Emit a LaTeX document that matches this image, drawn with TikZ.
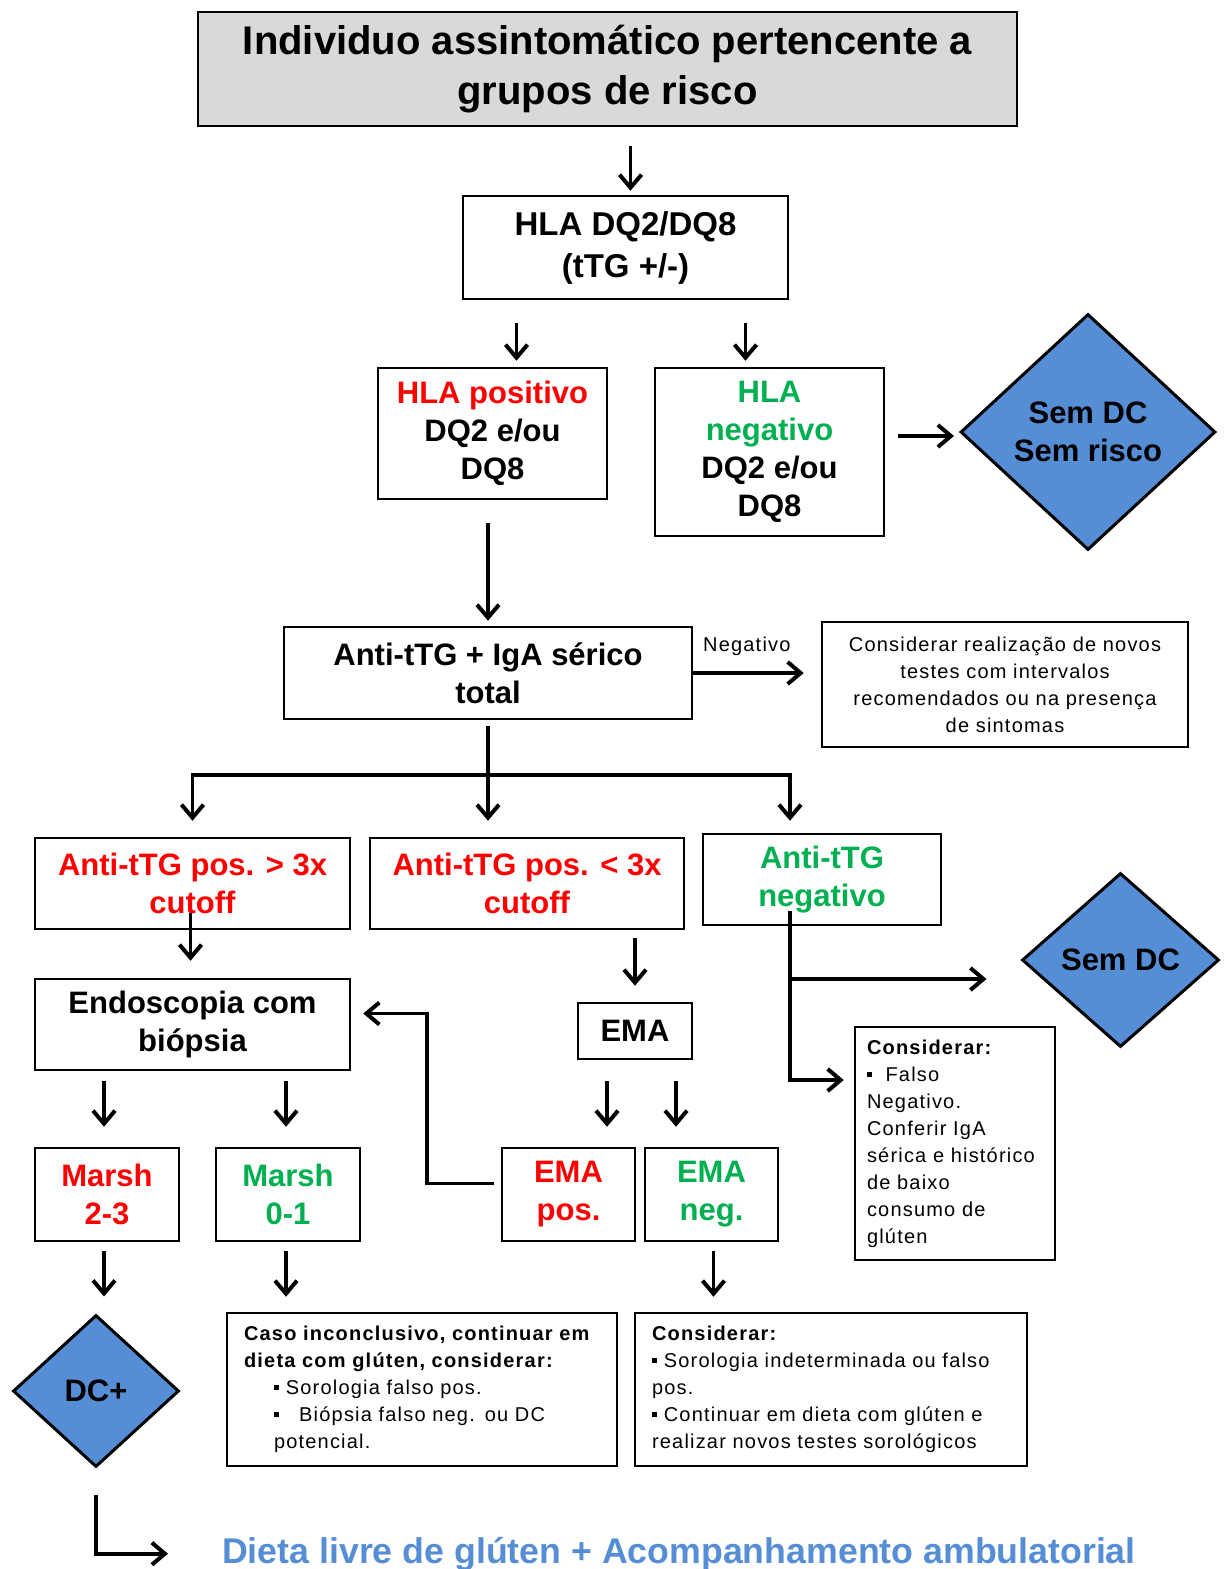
\documentclass[tikz,border=0pt]{standalone}
\usepackage{fontspec}
\setmainfont{Liberation Sans}
\newfontfamily\notefont[LetterSpace=6]{Liberation Sans}
\usetikzlibrary{shapes.geometric,arrows.meta,calc}
\definecolor{hlared}{HTML}{FF0000}
\definecolor{hlagreen}{HTML}{00B050}
\definecolor{dcblue}{HTML}{558ED5}
\definecolor{topgray}{HTML}{D9D9D9}
\newcommand\sqb{\raisebox{0.22em}{\rule{0.26em}{0.26em}}}

\begin{document}
\begin{tikzpicture}
  [x=1pt, y=-1pt,
   box/.style={draw, line width=2.5pt, align=center, inner sep=0pt,
     font=\bfseries\fontsize{31}{38}\selectfont},
   note/.style={draw, line width=2.5pt, inner xsep=17pt, inner ysep=0pt,
     align=left, font=\notefont\fontsize{20}{27}\selectfont},
   decision/.style={diamond, draw, fill=dcblue, line width=3pt,
     inner sep=0pt, align=center, font=\bfseries\fontsize{31}{38}\selectfont},
   wire/.style={line width=3.6pt, line cap=rect},
   arr/.style={line width=3.6pt,
     -{Straight Barb[length=13pt,width=22pt,line width=4pt]}}]
  \useasboundingbox (0,0) rectangle (1224,1569);

  % top of the chart
  \node[box, fill=topgray, minimum width=819pt, minimum height=114pt,
    font=\bfseries\fontsize{40}{50}\selectfont] (top) at (607.5,69)
    {Individuo assintomático pertencente a\\grupos de risco};
  \node[box, minimum width=325pt, minimum height=103pt,
    font=\bfseries\fontsize{33}{42}\selectfont] (hla) at (625.5,247.5)
    {HLA DQ2/DQ8\\(tTG +/-)};
  \node[box, minimum width=229pt, minimum height=131pt] (pos) at (492.5,433.5)
    {\textcolor{hlared}{HLA positivo}\\DQ2 e/ou\\DQ8};
  \node[box, minimum width=229pt, minimum height=168pt] (neg) at (769.5,452)
    {\textcolor{hlagreen}{HLA}\\\textcolor{hlagreen}{negativo}\\DQ2 e/ou\\DQ8};
  \node[decision, minimum width=255pt, minimum height=236pt] (semrisco) at (1088,432)
    {Sem DC\\Sem risco};

  % serology
  \node[box, minimum width=408pt, minimum height=92pt] (iga) at (488,673)
    {Anti-tTG + IgA sérico\\total};
  \node[note, align=center, text width=332pt, minimum height=125pt] (cons1) at (1005,684.5)
    {Considerar realização de novos\\testes com intervalos\\recomendados ou na presença\\de sintomas};
  \node[box, minimum width=315pt, minimum height=91pt, text=hlared] (ttg3a) at (192.5,883.5)
    {Anti-tTG pos. > 3x\\cutoff};
  \node[box, minimum width=314pt, minimum height=91pt, text=hlared] (ttg3b) at (527,883.5)
    {Anti-tTG pos. < 3x\\cutoff};
  \node[box, minimum width=238pt, minimum height=91pt, text=hlagreen] (ttgneg) at (822,879.5)
    {Anti-tTG\\negativo};
  \node[decision, minimum width=197pt, minimum height=174pt] (semdc) at (1120.5,960)
    {Sem DC};

  % biopsy and EMA
  \node[box, minimum width=315pt, minimum height=91pt] (endo) at (192.5,1024.5)
    {Endoscopia com\\biópsia};
  \node[box, minimum width=114pt, minimum height=56pt] (ema) at (635,1031) {EMA};
  \node[note, inner xsep=12pt, text width=176pt, minimum height=233pt] (cons2) at (955,1143.5)
    {\textbf{Considerar:}\\\sqb\ \ Falso\\Negativo.\\Conferir IgA\\sérica e histórico\\de baixo\\consumo de\\glúten};
  \node[box, minimum width=144pt, minimum height=93pt, text=hlared] (m23) at (107,1194.5)
    {Marsh\\2-3};
  \node[box, minimum width=144pt, minimum height=93pt, text=hlagreen] (m01) at (288,1194.5)
    {Marsh\\0-1};
  \node[box, minimum width=133pt, minimum height=93pt, text=hlared] (emapos) at (568.5,1194.5)
    {EMA\\pos.};
  \node[box, minimum width=133pt, minimum height=93pt, text=hlagreen] (emaneg) at (711.5,1194.5)
    {EMA\\neg.};

  % outcomes
  \node[decision, minimum width=166pt, minimum height=152pt] (dcplus) at (96,1391) {DC+};
  \node[note, text width=356pt, minimum height=153pt] (caso) at (422,1389.5)
    {\textbf{Caso inconclusivo, continuar em}\\\textbf{dieta com glúten, considerar:}\\
     \hspace*{30pt}\sqb\ Sorologia falso pos.\\
     \hspace*{30pt}\sqb\quad Biópsia falso neg. ou DC\\
     \hspace*{30pt}potencial.};
  \node[note, text width=358pt, minimum height=153pt] (cons3) at (831,1389.5)
    {\textbf{Considerar:}\\\sqb\ Sorologia indeterminada ou falso\\pos.\\
     \sqb\ Continuar em dieta com glúten e\\realizar novos testes sorológicos};
  \node[anchor=base west, inner sep=0pt, text=dcblue,
    font=\bfseries\fontsize{35.7}{42}\selectfont] (dieta) at (222,1563)
    {Dieta livre de glúten + Acompanhamento ambulatorial};

  % arrows
  \draw[arr, shorten <=19pt, shorten >=4pt] ([xshift=5pt]hla.north |- top.south) -- ([xshift=5pt]hla.north);
  \draw[arr, shorten <=23pt, shorten >=6pt] ([xshift=24pt]pos.north |- hla.south) -- ([xshift=24pt]pos.north);
  \draw[arr, shorten <=23pt, shorten >=6pt] ([xshift=-24pt]neg.north |- hla.south) -- ([xshift=-24pt]neg.north);
  \draw[arr, shorten <=13pt, shorten >=5pt] ([yshift=16pt]neg.east) -- ([yshift=16pt]neg.east -| semrisco.west);
  \draw[arr, shorten <=23pt, shorten >=5pt] (iga.north |- pos.south) -- (iga.north);
  \draw[arr, shorten >=17pt] (iga.east) -- (iga.east -| cons1.west)
    node[pos=0.42, above=16pt, inner sep=0pt, font=\notefont\fontsize{20}{24}\selectfont] (neglbl) {Negativo};

  \coordinate (bus) at (iga.south |- 0,775);
  \coordinate (busL) at (ttg3a.north |- bus);
  \coordinate (busR) at ([xshift=-32pt]ttgneg.north |- bus);
  \draw[wire, shorten <=8pt] (iga.south) -- (bus);
  \draw[wire] (busL) -- (busR);
  \draw[arr, shorten >=16pt] (busL) -- (ttg3a.north);
  \draw[arr, shorten >=16pt] (bus) -- (bus |- ttg3b.north);
  \draw[arr, shorten >=12pt] (busR) -- ([xshift=-32pt]ttgneg.north);

  \draw[arr, shorten <=-17pt, shorten >=17pt] ([xshift=-2pt]ttg3a.south) -- ([xshift=-2pt]ttg3a.south |- endo.north);
  \draw[arr, shorten <=8pt, shorten >=16pt] (ttg3b.south -| ema.north) -- (ema.north);

  \coordinate (negtop) at ([xshift=-32pt]ttgneg.south);
  \coordinate (negfork) at (negtop |- 0,979);
  \coordinate (negturn) at (negtop |- 0,1080);
  \draw[wire, shorten <=-13pt] (negtop) -- (negturn);
  \draw[arr, shorten >=34pt] (negfork) -- (negfork -| semdc.west);
  \draw[arr, shorten >=10pt] (negturn) -- (negturn -| cons2.west);

  \draw[arr, shorten <=21pt, shorten >=20pt] ([xshift=-28pt]ema.south) -- ([xshift=-28pt]ema.south |- emapos.north);
  \draw[arr, shorten <=21pt, shorten >=20pt] ([xshift=41pt]ema.south) -- ([xshift=41pt]ema.south |- emaneg.north);
  \draw[arr, shorten <=7pt, shorten >=12pt] ([yshift=11pt]emapos.west) -- ++(-74,0) |- ([yshift=11pt]endo.east);

  \draw[arr, shorten <=10pt, shorten >=20pt] ([xshift=-3pt]m23.north |- endo.south) -- ([xshift=-3pt]m23.north);
  \draw[arr, shorten <=10pt, shorten >=20pt] ([xshift=-2pt]m01.north |- endo.south) -- ([xshift=-2pt]m01.north);
  \draw[arr, shorten <=9pt, shorten >=17pt] ([xshift=-3pt]m23.south) -- ([xshift=-3pt]m23.south |- dcplus.north);
  \draw[arr, shorten <=9pt, shorten >=15pt] ([xshift=-2pt]m01.south) -- ([xshift=-2pt]m01.south |- caso.north);
  \draw[arr, shorten <=9pt, shorten >=15pt] ([xshift=2pt]emaneg.south) -- ([xshift=2pt]emaneg.south |- cons3.north);
  \draw[arr, shorten <=26pt, shorten >=54pt] (dcplus.south) |- (dieta.west);
\end{tikzpicture}
\end{document}
